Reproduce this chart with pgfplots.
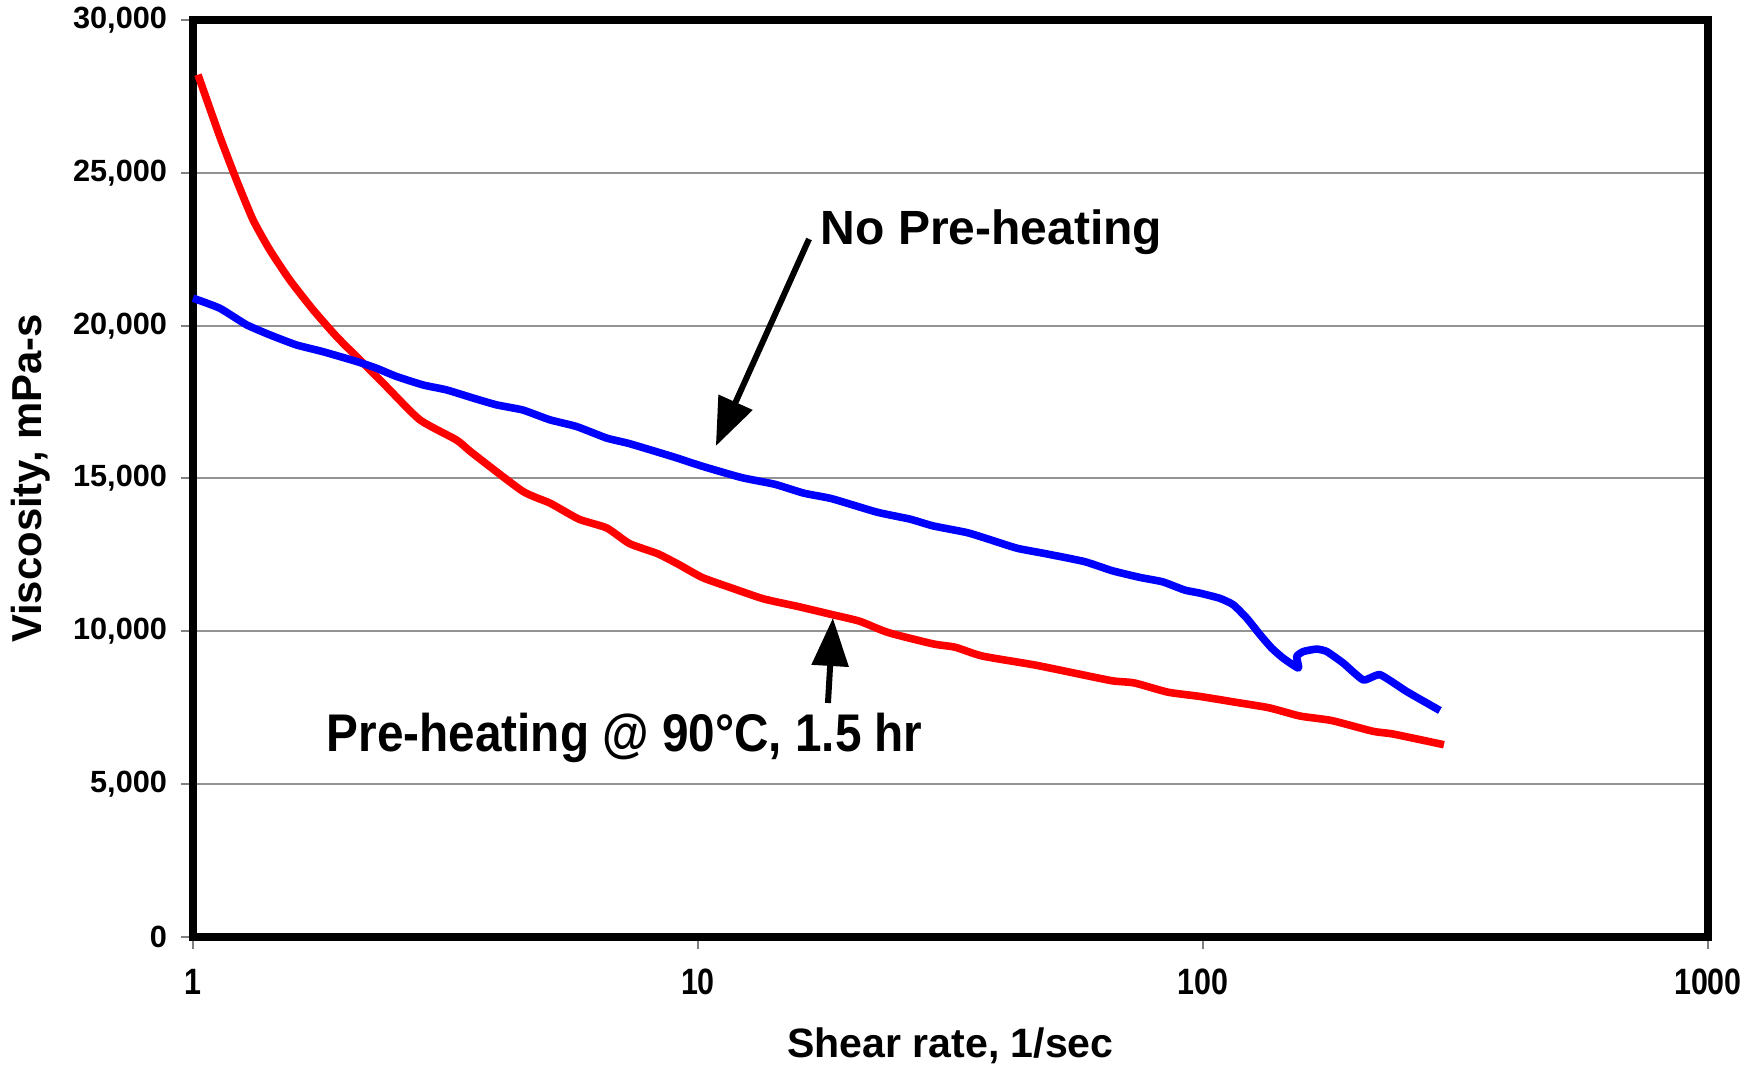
\documentclass[border=0pt]{standalone}
\usepackage{pgfplots}
\pgfplotsset{compat=1.18}
\usepackage{fontspec}
\setmainfont{Liberation Sans}
\newfontfamily\narrowA[FakeStretch=0.83]{Liberation Sans}
\newfontfamily\narrowB[FakeStretch=0.9]{Liberation Sans}
\usetikzlibrary{arrows.meta}

\pgfplotstableread{
x y
1.023 28210
1.13 26190
1.219 24770
1.315 23460
1.419 22480
1.554 21500
1.729 20520
1.923 19650
2.14 18880
2.415 18010
2.813 16920
3.325 16260
3.57 15840
4.49 14590
5.1 14190
5.81 13670
6.6 13380
7.32 12870
8.32 12540
9.2 12170
10.2 11760
11.6 11430
13.5 11060
15.8 10810
18.4 10550
20.9 10330
23.8 9960
29.2 9590
32.3 9480
36.6 9190
46.4 8900
56.9 8600
66.2 8380
73.2 8310
85.2 8010
98.6 7870
116 7680
135 7500
155.6 7230
180 7080
217 6730
238 6640
300 6290
}\redtab

\pgfplotstableread{
x y
1 20900
1.13 20570
1.276 20030
1.419 19700
1.602 19370
1.808 19150
2.107 18830
2.307 18610
2.527 18340
2.855 18060
3.175 17900
3.59 17630
3.99 17410
4.5 17240
5.09 16920
5.75 16700
6.6 16320
7.32 16140
8.97 15700
10.2 15400
12.2 15030
14.2 14810
16.2 14520
18.4 14340
22.6 13900
26.3 13670
29.2 13450
34.1 13230
37.7 13010
42.8 12720
48.8 12540
58.3 12280
66.2 11980
75.2 11760
83.2 11620
92 11350
98.6 11250
108 11080
114.8 10870
122.1 10430
129.7 9890
136.8 9450
144.2 9120
154.5 8800
153.3 9180
158.1 9340
167.9 9420
175.8 9340
189.6 8960
207.7 8410
224.2 8580
253.2 8030
294.6 7410
}\bluetab

\begin{document}
\begin{tikzpicture}
\begin{axis}[
  scale only axis,
  width=378.75bp, height=229.25bp,
  xmode=log, xmin=1, xmax=1000, ymin=0, ymax=30000,
  xtick={1,10,100,1000}, xticklabels={1,10,100,1000},
  xminorticks=false,
  ytick={0,5000,10000,15000,20000,25000,30000},
  scaled y ticks=false,
  /pgf/number format/1000 sep={,},
  /pgf/number format/assume math mode=true,
  yticklabel style={font=\fontsize{7.7}{9}\selectfont\bfseries},
  xticklabel style={font=\fontsize{9.2}{10}\narrowA\bfseries, yshift=-1.5bp},
  tick align=outside, tick pos=left,
  major tick length=3bp,
  tick style={draw=gray, line width=0.5bp},
  ymajorgrids,
  grid style={draw=gray!85, line width=0.5bp},
  axis line style={line width=2.1bp, black, line join=miter},
  xlabel={Shear rate, 1/sec},
  ylabel={Viscosity, mPa-s},
  xlabel style={font=\fontsize{10.3}{12}\selectfont\bfseries, at={(axis description cs:0.5,0)}, anchor=center, yshift=-27.25bp},
  ylabel style={font=\fontsize{10.5}{12}\selectfont\bfseries, at={(axis description cs:0,0.5)}, anchor=center, rotate=0, yshift=40.5bp},
  clip=false,
]
\coordinate (bbsw) at (rel axis cs:0,0);
\coordinate (bbne) at (rel axis cs:1,1);
\addplot[red, line width=1.9bp, line join=round, no marks, smooth, tension=0.35] table[x=x,y=y] {\redtab};
\addplot[blue, line width=1.9bp, line join=round, no marks, smooth, tension=0.3] table[x=x,y=y] {\bluetab};
\draw[line width=1.5bp, -{Triangle[length=12bp,width=9bp]}] (axis cs:16.59,22835) -- (axis cs:10.85,16063);
\draw[line width=1.5bp, -{Triangle[length=12bp,width=9bp]}] (axis cs:18.09,7655) -- (axis cs:18.5,10436);
\node[anchor=base west, inner sep=0pt, font=\fontsize{12.05}{14}\selectfont\bfseries] at (axis cs:17.44,22639) {No Pre-heating};
\node[anchor=base west, inner sep=0pt, font=\fontsize{13.3}{15}\narrowB\bfseries] at (axis cs:1.834,6085) {Pre-heating @ 90°C, 1.5 hr};
\end{axis}
\pgfresetboundingbox
\path[use as bounding box] ([shift={(-48.25bp,-33bp)}]bbsw) rectangle ([shift={(13.5bp,5bp)}]bbne);
\end{tikzpicture}
\end{document}
